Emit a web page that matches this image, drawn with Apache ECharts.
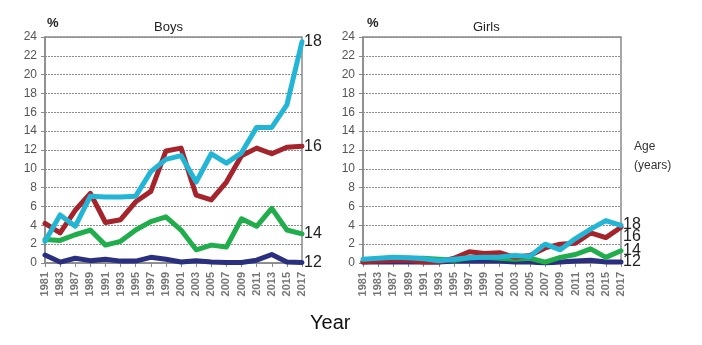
<!DOCTYPE html>
<html>
<head>
<meta charset="utf-8">
<script src="https://cdn.jsdelivr.net/npm/echarts@6/dist/echarts.min.js"></script>
<style>
  html, body { margin: 0; padding: 0; background: #fff; }
  #chart { width: 702px; height: 345px; }
</style>
</head>
<body>
<div id="chart"></div>
<script>
// Survey years (biennial, 1985 not surveyed)
const years = ['1981','1983','1987','1989','1991','1993','1995','1997','1999','2001',
               '2003','2005','2007','2009','2011','2013','2015','2017'];
const yTicks = [0, 2, 4, 6, 8, 10, 12, 14, 16, 18, 20, 22, 24];

// Boys, % by age
const boys12 = [0.85, 0.1, 0.5, 0.25, 0.4, 0.2, 0.2, 0.6, 0.4, 0.1, 0.25, 0.1, 0.05, 0.05, 0.3, 0.9, 0.1, 0.05];
const boys14 = [2.5, 2.4, 3.0, 3.5, 1.9, 2.3, 3.5, 4.4, 4.9, 3.5, 1.4, 1.9, 1.7, 4.7, 3.9, 5.8, 3.5, 3.1];
const boys16 = [4.2, 3.2, 5.6, 7.4, 4.3, 4.6, 6.5, 7.6, 11.9, 12.2, 7.2, 6.7, 8.6, 11.4, 12.2, 11.6, 12.3, 12.4];
const boys18 = [2.3, 5.1, 3.9, 7.1, 7.0, 7.0, 7.1, 9.7, 11.0, 11.4, 8.6, 11.6, 10.6, 11.7, 14.4, 14.4, 16.8, 23.5];

// Girls, % by age
const girls12 = [0.1, 0.1, 0.1, 0.1, 0.1, 0.1, 0.2, 0.2, 0.2, 0.2, 0.1, 0.1, 0.0, 0.1, 0.2, 0.3, 0.1, 0.1];
const girls14 = [0.2, 0.4, 0.5, 0.5, 0.5, 0.4, 0.3, 0.55, 0.6, 0.5, 0.4, 0.5, 0.1, 0.6, 0.9, 1.5, 0.6, 1.3];
const girls16 = [0.1, 0.2, 0.3, 0.3, 0.1, 0.1, 0.5, 1.2, 1.0, 1.1, 0.6, 0.8, 1.6, 2.0, 2.1, 3.2, 2.7, 3.8];
const girls18 = [0.4, 0.5, 0.6, 0.55, 0.45, 0.25, 0.4, 0.55, 0.6, 0.65, 0.8, 0.7, 2.0, 1.4, 2.6, 3.6, 4.5, 4.0];

const colors = { '12': '#2a2f80', '14': '#1fae4b', '16': '#a5232b', '18': '#22b5d5' };

const FONT = "'Liberation Sans', Arial, sans-serif";

function xAxisFor(gridIndex) {
  return {
    type: 'category', gridIndex, data: years, boundaryGap: false,
    axisLine: { lineStyle: { color: '#8a8a8a', width: 1.5 } },
    axisTick: { show: true, length: 4, inside: false, alignWithLabel: true, lineStyle: { color: '#8a8a8a' } },
    axisLabel: { rotate: 90, interval: 0, margin: 9, fontSize: 11, fontWeight: 'bold', color: '#767676', fontFamily: FONT },
    splitLine: { show: false }
  };
}
function yAxisFor(gridIndex) {
  return {
    type: 'value', gridIndex, min: yTicks[0], max: yTicks[yTicks.length - 1], interval: 2,
    axisLine: { show: true, lineStyle: { color: '#8a8a8a', width: 1.5 } },
    axisTick: { show: true, length: 4, lineStyle: { color: '#8a8a8a' } },
    axisLabel: { margin: 8, fontSize: 12, color: '#555', fontFamily: FONT },
    splitLine: { show: true, lineStyle: { color: '#8c8c8c', width: 1, type: [2, 1] } }
  };
}

function seriesFor(idx, data, age, labelOffsetY) {
  return {
    type: 'line', xAxisIndex: idx, yAxisIndex: idx, name: age, data,
    symbol: 'none', smooth: false,
    lineStyle: { width: 5, color: colors[age], cap: 'round', join: 'round' },
    itemStyle: { color: colors[age] },
    endLabel: {
      show: true, formatter: age, distance: 2, offset: [0, labelOffsetY || 0],
      fontSize: 16, color: '#222', fontFamily: FONT
    },
    emphasis: { disabled: true }, animation: false
  };
}

const chart = echarts.init(document.getElementById('chart'), null, { renderer: 'canvas' });
chart.setOption({
  backgroundColor: '#fff',
  animation: false,
  grid: [
    { left: 45, top: 37, width: 257, height: 226, show: true, borderColor: '#8a8a8a', borderWidth: 1.5, backgroundColor: 'transparent' },
    { left: 363, top: 37, width: 258, height: 226, show: true, borderColor: '#8a8a8a', borderWidth: 1.5, backgroundColor: 'transparent' }
  ],
  xAxis: [xAxisFor(0), xAxisFor(1)],
  yAxis: [yAxisFor(0), yAxisFor(1)],
  series: [
    seriesFor(0, boys12, '12'),
    seriesFor(0, boys14, '14'),
    seriesFor(0, boys16, '16'),
    seriesFor(0, boys18, '18'),
    seriesFor(1, girls12, '12'),
    seriesFor(1, girls14, '14'),
    seriesFor(1, girls16, '16', 9),
    seriesFor(1, girls18, '18', -1)
  ],
  graphic: [
    { type: 'text', left: 47, top: 17, style: { text: '%', fill: '#222', font: 'bold 13px ' + FONT } },
    { type: 'text', left: 154, top: 21, style: { text: 'Boys', fill: '#222', font: '13px ' + FONT } },
    { type: 'text', left: 367, top: 17, style: { text: '%', fill: '#222', font: 'bold 13px ' + FONT } },
    { type: 'text', left: 473, top: 21, style: { text: 'Girls', fill: '#222', font: '13px ' + FONT } },
    { type: 'text', left: 634, top: 141, style: { text: 'Age', fill: '#333', font: '12px ' + FONT } },
    { type: 'text', left: 634, top: 160, style: { text: '(years)', fill: '#333', font: '12px ' + FONT } },
    { type: 'text', left: 310, top: 313, style: { text: 'Year', fill: '#111', font: '20px ' + FONT } }
  ]
});
</script>
</body>
</html>
